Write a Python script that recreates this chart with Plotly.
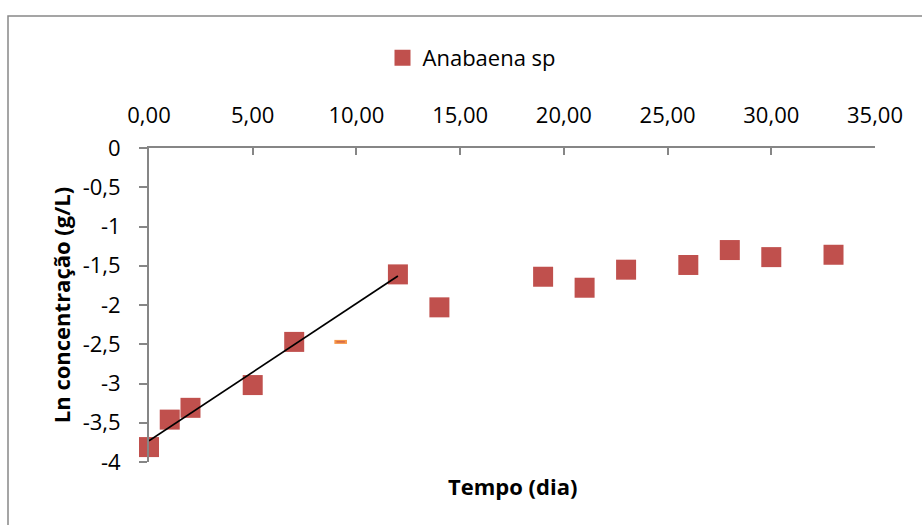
import plotly.graph_objects as go

# Growth of Anabaena sp: day vs ln(concentration)
tempo = [0, 1, 2, 5, 7, 12, 14, 19, 21, 23, 26, 28, 30, 33]
ln_conc = [-3.81, -3.46, -3.31, -3.02, -2.47, -1.61, -2.03, -1.64, -1.78, -1.55, -1.49, -1.30, -1.39, -1.36]

# Linear fit over the exponential phase
fit_x = [0, 12]
fit_y = [-3.73, -1.63]

# Stray point marker
extra_x = [9.24]
extra_y = [-2.47]

x_ticks = [0, 5, 10, 15, 20, 25, 30, 35]
x_labels = ["0,00", "5,00", "10,00", "15,00", "20,00", "25,00", "30,00", "35,00"]
y_ticks = [0, -0.5, -1, -1.5, -2, -2.5, -3, -3.5, -4]
y_labels = ["0", "-0,5", "-1", "-1,5", "-2", "-2,5", "-3", "-3,5", "-4"]

FONT = "Open Sans"
AXIS_GRAY = "#868686"
TICK_SIZE = 22
TITLE_SIZE = 22

fig = go.Figure()
fig.add_trace(go.Scatter(
    x=tempo, y=ln_conc, mode="markers", name="Anabaena sp", cliponaxis=False,
    marker=dict(symbol="square", size=20, color="#C0504D",
                line=dict(width=0)),
))
fig.add_trace(go.Scatter(
    x=fit_x, y=fit_y, mode="lines", showlegend=False, cliponaxis=False,
    line=dict(color="black", width=1.7),
))
fig.add_trace(go.Scatter(
    x=extra_x, y=extra_y, mode="markers", showlegend=False,
    marker=dict(symbol="line-ew-open", size=9, color="#F79646",
                line=dict(color="#F79646", width=4)),
))
fig.add_trace(go.Scatter(
    x=extra_x, y=extra_y, mode="markers", showlegend=False,
    marker=dict(symbol="line-ew-open", size=6, color="#C0504D",
                line=dict(color="#C0504D", width=1)),
))

# Outer chart frame
fig.add_shape(type="rect", xref="paper", yref="paper",
              x0=(8 - 149) / 726, x1=(930 - 149) / 726,
              y0=(462 - 540) / 314, y1=(462 - 16) / 314,
              line=dict(color="#888888", width=1.5), layer="below")

fig.update_layout(
    width=922, height=525,
    margin=dict(l=149, r=47, t=148, b=63),
    paper_bgcolor="white", plot_bgcolor="white",
    font=dict(family=FONT, color="black"),
    showlegend=True,
    legend=dict(orientation="h", x=(472 - 149) / 726, xanchor="center",
                y=(462 - 58) / 314, yanchor="middle",
                font=dict(size=TICK_SIZE, family=FONT),
                itemwidth=30, bgcolor="rgba(0,0,0,0)"),
    xaxis=dict(
        range=[0, 35], side="top", tickvals=x_ticks, ticktext=x_labels,
        showgrid=False, zeroline=False, showline=True, linecolor=AXIS_GRAY,
        linewidth=2, ticks="inside", ticklen=7, tickwidth=2, tickcolor=AXIS_GRAY,
        tickfont=dict(size=TICK_SIZE, family=FONT), ticklabelstandoff=14,
        title=dict(text=""),
    ),
    yaxis=dict(
        range=[-4, 0], tickvals=y_ticks, ticktext=y_labels,
        showgrid=False, zeroline=False, showline=True, linecolor=AXIS_GRAY,
        linewidth=2, ticks="outside", ticklen=8, tickwidth=2, tickcolor=AXIS_GRAY,
        tickfont=dict(size=TICK_SIZE, family=FONT), ticklabelstandoff=14,
        title=dict(text="<b>Ln concentração (g/L)</b>",
                   font=dict(size=TITLE_SIZE, family=FONT), standoff=6),
    ),
    annotations=[dict(
        text="<b>Tempo (dia)</b>", xref="paper", yref="paper",
        x=0.5, y=(462 - 486) / 314, xanchor="center", yanchor="middle",
        showarrow=False, font=dict(size=TITLE_SIZE, family=FONT),
    )],
)

fig.write_html("out.html")
